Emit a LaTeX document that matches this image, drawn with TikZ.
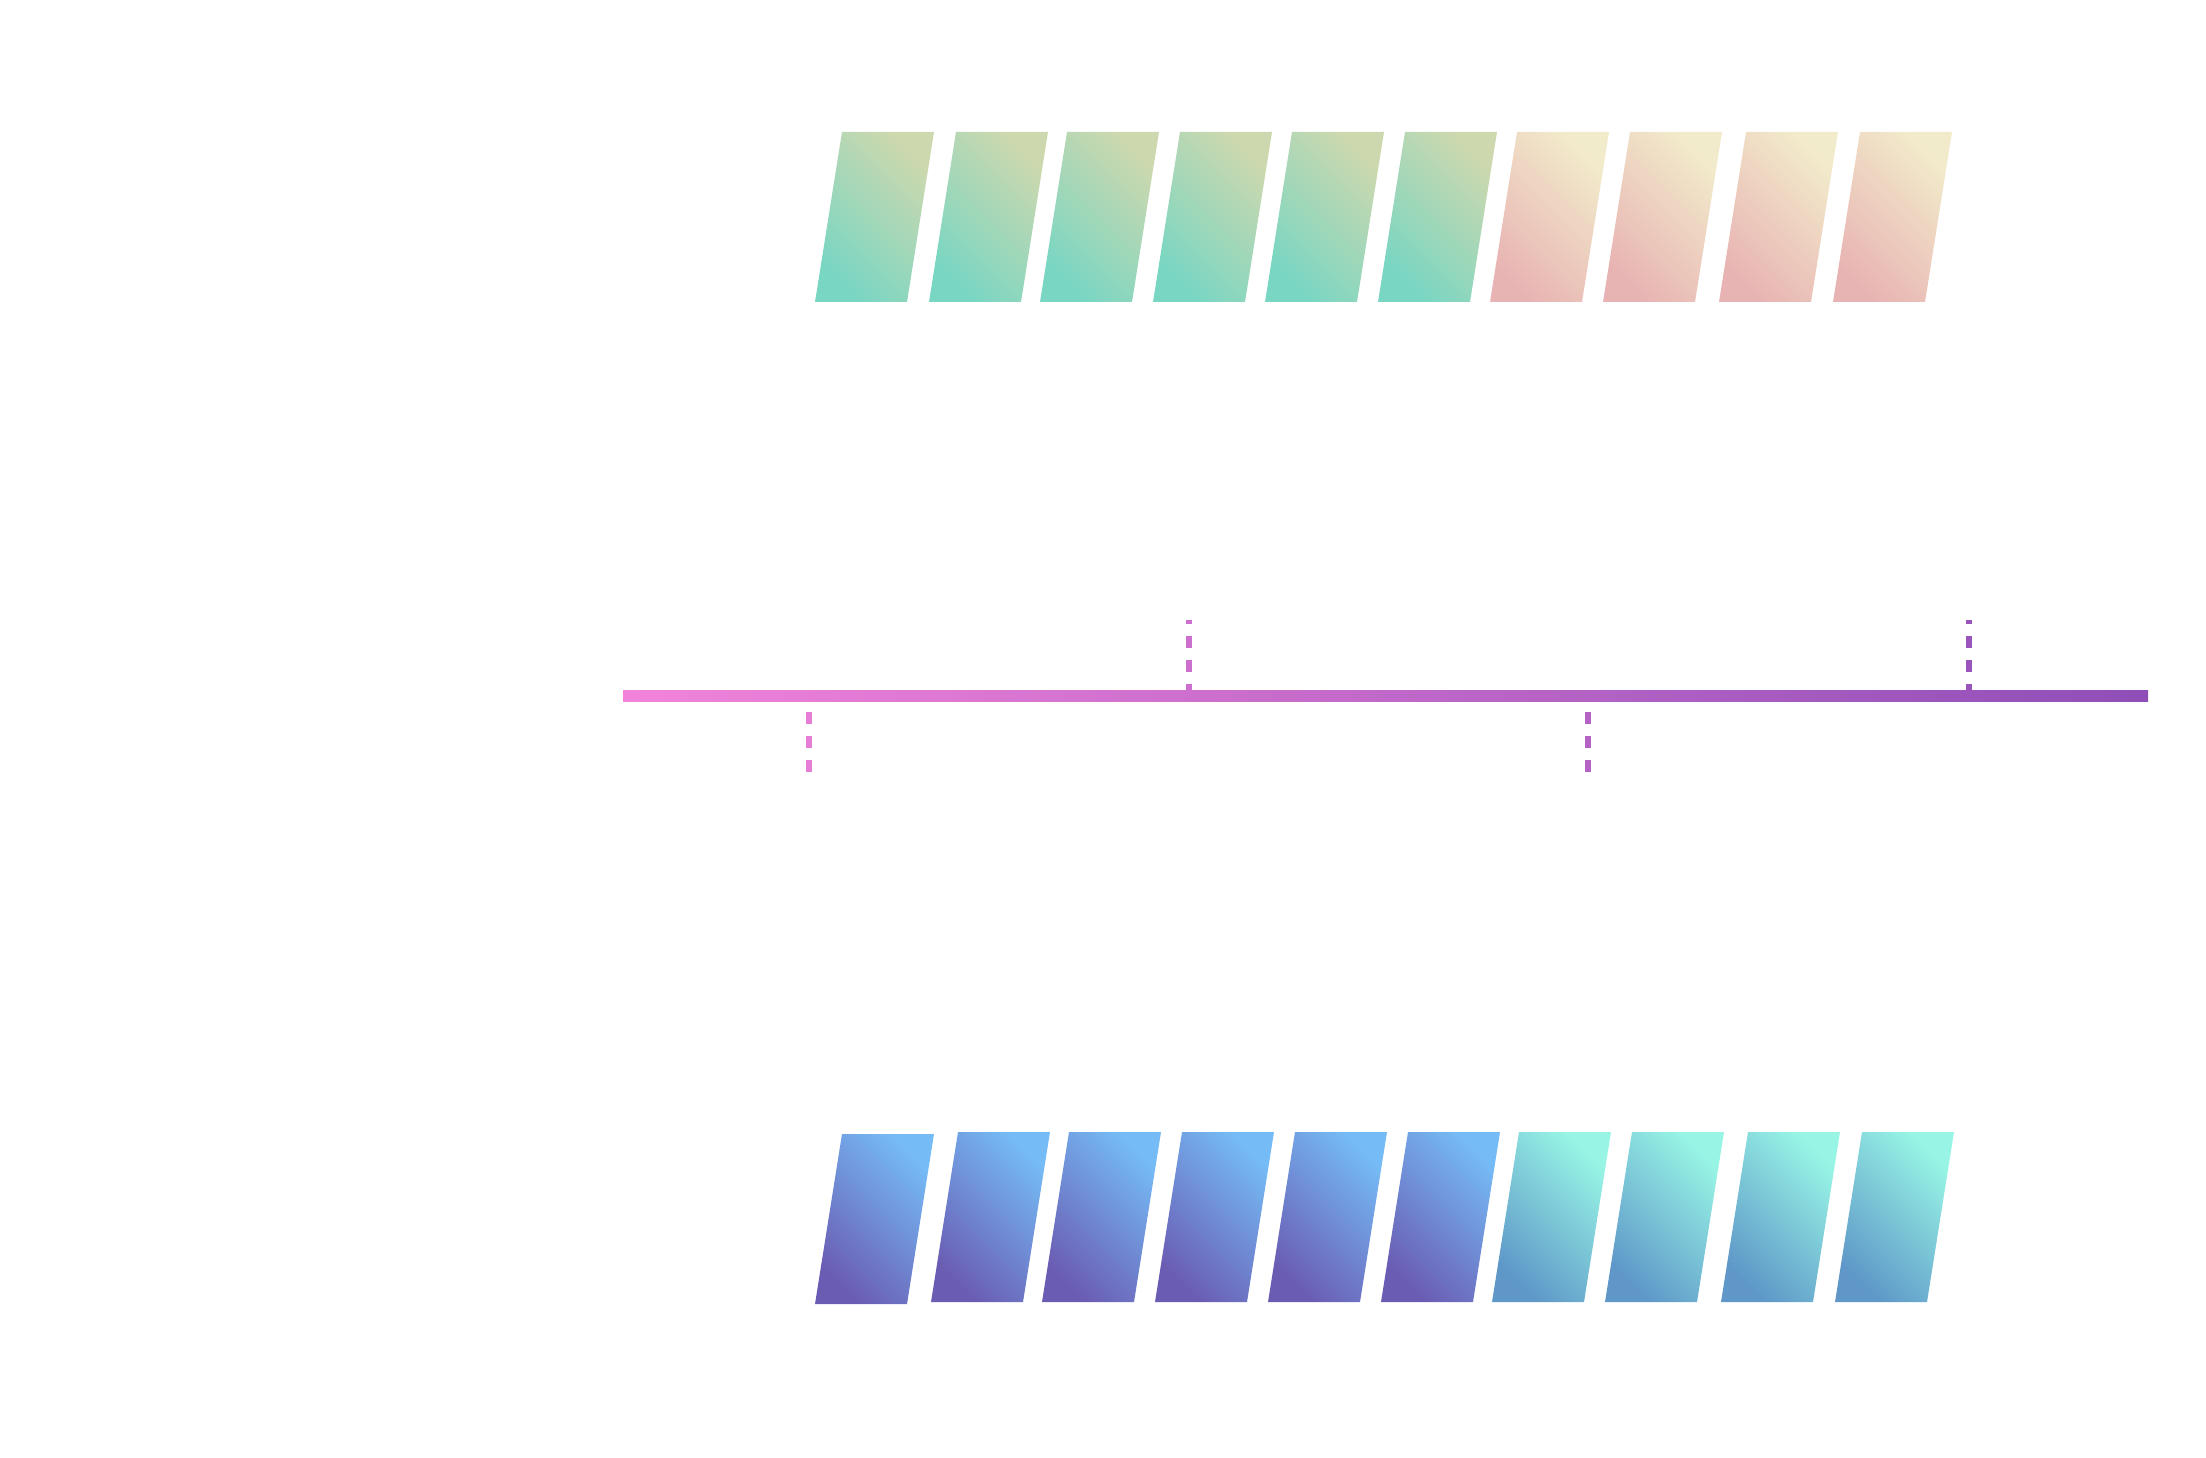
\documentclass[tikz,border=0pt]{standalone}

\definecolor{greenlo}{HTML}{78D6C3}
\definecolor{greenhi}{HTML}{CDD8AE}
\definecolor{peachlo}{HTML}{E8B4B3}
\definecolor{peachhi}{HTML}{F2EBCB}
\definecolor{bluelo}{HTML}{6A5CB2}
\definecolor{bluehi}{HTML}{75BBF5}
\definecolor{aqualo}{HTML}{5E97C8}
\definecolor{aquahi}{HTML}{98F5E5}
\definecolor{linepink}{HTML}{F283DB}
\definecolor{linepurple}{HTML}{8F4EB7}

\tikzset{
  tilegreen/.style={bottom color=greenlo, top color=greenhi, shading angle=-45},
  tilepeach/.style={bottom color=peachlo, top color=peachhi, shading angle=-45},
  tileblue/.style={bottom color=bluelo, top color=bluehi, shading angle=-45},
  tileaqua/.style={bottom color=aqualo, top color=aquahi, shading angle=-45},
  ticklink/.style={line width=0.06cm, dash pattern=on 0.12cm off 0.12cm}
}

\begin{document}
\begin{tikzpicture}[x=0.01cm, y=-0.01cm]

\useasboundingbox (0,0) rectangle (2206,1458);

\foreach \x in {842,956,1067,1180,1292,1405}
  \shade[tilegreen] (\x,132) -- (\x+92,132) -- (\x+65,302) -- (\x-27,302) -- cycle;
\foreach \x in {1517,1630,1746,1860}
  \shade[tilepeach] (\x,132) -- (\x+92,132) -- (\x+65,302) -- (\x-27,302) -- cycle;

\shade[tileblue] (842,1134) -- (934,1134) -- (907,1304) -- (815,1304) -- cycle;
\foreach \x in {958,1069,1182,1295,1408}
  \shade[tileblue] (\x,1132) -- (\x+92,1132) -- (\x+65,1302) -- (\x-27,1302) -- cycle;
\foreach \x in {1519,1632,1748,1862}
  \shade[tileaqua] (\x,1132) -- (\x+92,1132) -- (\x+65,1302) -- (\x-27,1302) -- cycle;

\coordinate (axisstart) at (623,696);
\coordinate (axisend) at (2148,696);

\coordinate (upa) at (1189,696);
\coordinate (upb) at (1969,696);
\coordinate (lowa) at (809,712);
\coordinate (lowb) at (1588,712);

\draw[ticklink, linepurple!37!linepink] (upa) -- ++(0,-76);
\draw[ticklink, linepurple!88!linepink] (upb) -- ++(0,-76);
\draw[ticklink, linepurple!12!linepink] (lowa) -- ++(0,60);
\draw[ticklink, linepurple!63!linepink] (lowb) -- ++(0,60);

\shade[left color=linepink, right color=linepurple] ([yshift=-0.05cm]axisstart) rectangle ([yshift=0.05cm]axisend);

\end{tikzpicture}
\end{document}
